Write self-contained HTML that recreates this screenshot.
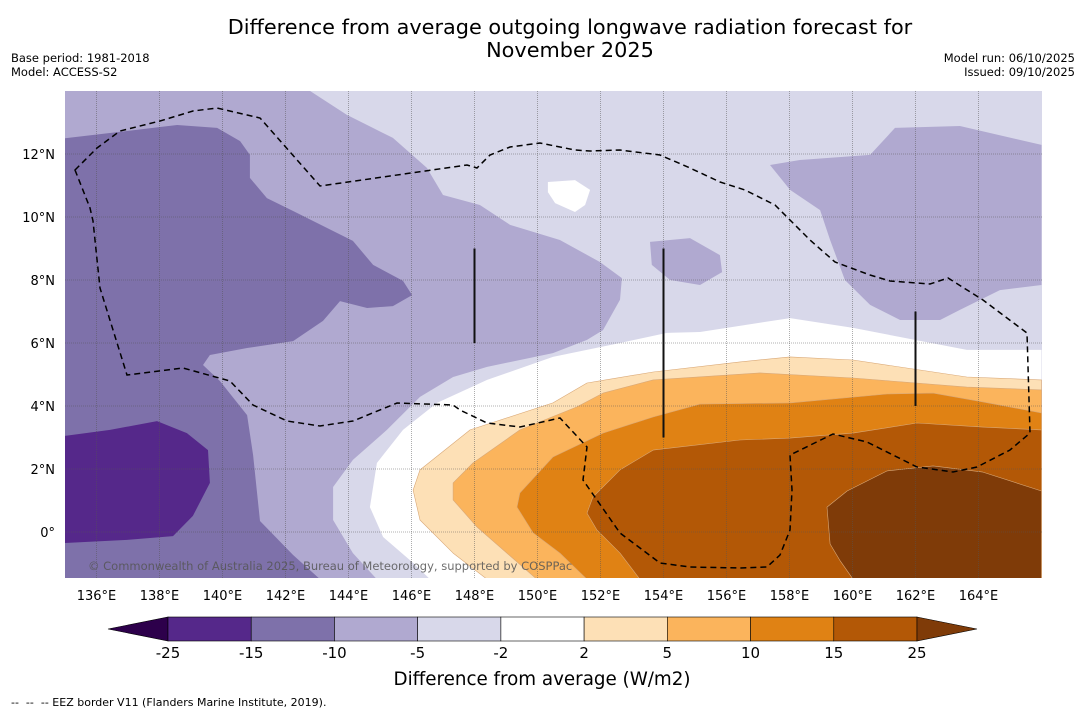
<!DOCTYPE html>
<html><head><meta charset="utf-8">
<style>
body{margin:0;background:#fff;width:1085px;height:713px;overflow:hidden;font-family:"DejaVu Sans","Liberation Sans",sans-serif;}
svg{display:block}
svg text{font-family:"DejaVu Sans","Liberation Sans",sans-serif;}
</style></head>
<body>
<svg id="chart" width="1085" height="713" viewBox="0 0 1085 713" xmlns="http://www.w3.org/2000/svg">
<rect width="1085" height="713" fill="#fff"/>
<text x="570" y="34" text-anchor="middle" font-size="20.8" fill="#000">Difference from average outgoing longwave radiation forecast for</text>
<text x="570" y="57" text-anchor="middle" font-size="20.8" fill="#000">November 2025</text>
<text x="11" y="62" font-size="11.5">Base period: 1981-2018</text>
<text x="11" y="76" font-size="11.5">Model: ACCESS-S2</text>
<text x="1075" y="62" font-size="11.5" text-anchor="end">Model run: 06/10/2025</text>
<text x="1075" y="76" font-size="11.5" text-anchor="end">Issued: 09/10/2025</text>
<defs><clipPath id="mapclip"><rect x="65" y="91" width="977" height="487"/></clipPath></defs>
<g id="map" clip-path="url(#mapclip)"></g>
<g id="axes"></g>
<g id="cbar"></g>
<text x="542" y="685" text-anchor="middle" font-size="18.3">Difference from average (W/m2)</text>
<text x="11" y="706" font-size="11" xml:space="preserve">--  --  -- EEZ border V11 (Flanders Marine Institute, 2019).</text>
</svg>
<script>
// Data: contour levels and filled regions (lon, lat)
const levels = [-25,-15,-10,-5,-2,2,5,10,15,25];
const colors = ["#55288a","#7e71aa","#b0a9d0","#d8d8ea","#ffffff","#fde0b6","#fbb45c","#e08214","#b35806","#7f3b08"];
const lonTicks = [136,138,140,142,144,146,148,150,152,154,156,158,160,162,164];
const latTicks = [0,2,4,6,8,10,12];
const regionLe10 = [[142.78,14],[143.95,13.24],[145.41,12.51],[146.49,11.56],[147,10.7],[148.17,10.38],[149.13,9.75],[150.71,9.27],[151.98,8.57],[152.68,8.06],[152.62,7.37],[152.08,6.41],[151.57,6.1],[150.49,5.68],[148.4,5.24],[147.32,4.92],[146.27,4.29],[145.22,3.24],[144.14,2.29],[143.51,1.43],[143.51,0.38],[144.14,-0.67],[144.9,-1.5],[135,-1.5],[135,14]];
const regionLe10East = [[157.38,11.65],[158.33,11.81],[160.56,11.97],[161.35,12.83],[163.41,12.89],[166,12.29],[166,7.84],[164.68,7.68],[163.41,7.05],[162.78,6.73],[161.51,6.73],[160.56,7.21],[159.76,8.0],[159.29,9.27],[158.97,10.22],[158.02,10.86]];
const regionLe10Blob = [[153.57,9.21],[154.84,9.33],[155.79,8.79],[155.86,8.25],[155.16,7.84],[154.21,8.0],[153.63,8.48]];
const regionLe15 = [[135,12.5],[138.56,12.92],[139.83,12.83],[140.56,12.41],[140.87,11.97],[140.87,11.24],[141.41,10.6],[142.24,10.19],[143.32,9.65],[144.14,9.24],[144.78,8.48],[145.73,7.97],[146.02,7.52],[145.41,7.17],[144.59,7.11],[143.73,7.33],[143.19,6.7],[142.24,6.06],[140.78,5.84],[139.6,5.62],[139.38,5.3],[139.92,4.79],[140.78,3.71],[140.97,2.44],[141.19,0.35],[142.24,-0.73],[143.1,-1.5],[135,-1.5]];
const regionLe25 = [[135,3.05],[136.43,3.24],[137.92,3.52],[138.87,3.14],[139.54,2.6],[139.6,1.56],[139.06,0.51],[138.43,-0.13],[136.97,-0.25],[135,-0.35]];
const regionWhiteIsland = [[150.33,11.11],[151.19,11.17],[151.67,10.86],[151.51,10.38],[151.19,10.16],[150.56,10.44],[150.33,10.79]];
const regionGeM2 = [[166,5.78],[163.63,5.78],[160.02,6.48],[158.02,6.79],[155.16,6.35],[154.11,6.32],[152.62,6.0],[150.49,5.56],[148.4,4.83],[146.81,4.1],[145.73,3.24],[144.9,2.19],[144.68,0.79],[145.1,-0.16],[146.05,-0.98],[146.59,-1.5],[166,-1.5]];
const regionGe2 = [[166,4.83],[163.63,4.92],[160.02,5.46],[158.02,5.56],[156.43,5.4],[153.67,5.08],[151.57,4.73],[150.49,4.1],[147.86,3.24],[146.27,1.97],[146.05,1.33],[146.27,0.38],[147.32,-0.67],[148.4,-1.5],[166,-1.5]];
const regionGe5 = [[166,4.51],[163.63,4.6],[160.02,4.89],[157.06,5.05],[153.67,4.83],[152.08,4.41],[151.25,3.97],[149.44,3.24],[147.95,2.19],[147.32,1.56],[147.32,1.02],[148.08,0.16],[149.03,-0.67],[149.98,-1.5],[166,-1.5]];
const regionGe10 = [[166,3.78],[164.14,4.13],[162.56,4.41],[161.1,4.38],[158.02,4.1],[155.16,4.06],[153.67,3.65],[152.08,3.14],[150.49,2.38],[149.44,1.24],[149.35,0.79],[149.86,-0.03],[150.71,-0.67],[151.57,-1.5],[166,-1.5]];
const regionGe15 = [[166,3.24],[164.14,3.33],[162.05,3.46],[160.02,3.14],[158.02,2.98],[156.43,2.92],[153.67,2.6],[152.62,1.97],[151.76,1.11],[151.57,0.6],[151.89,0.06],[152.62,-0.67],[153.25,-1.5],[166,-1.5]];
const regionGe25 = [[159.19,0.79],[159.83,1.3],[161.1,1.94],[162.56,2.1],[164.14,1.9],[166,1.3],[166,-1.5],[160.02,-1.5],[159.6,-0.9],[159.29,-0.38]];

// axis functions
const X0=65,X1=1042,Y0=91,Y1=578, LON0=135, LAT0=14, PPD=31.5;
const xs = lon => X0 + (lon-LON0)*PPD;
const ys = lat => Y0 + (LAT0-lat)*PPD;
const NS="http://www.w3.org/2000/svg";
function mk(tag, attrs, parent){const e=document.createElementNS(NS,tag);for(const k in attrs)e.setAttribute(k,attrs[k]);parent.appendChild(e);return e;}
const map=document.getElementById('map');
const bg=mk('rect',{x:X0,y:Y0,width:X1-X0,height:Y1-Y0,fill:colors[3]},map);


const layers=[[regionLe10,2,'region-minus10-to-minus5'],[regionLe10East,2,'region-minus10-east'],[regionLe10Blob,2,'region-minus10-blob'],[regionLe15,1,'region-minus15-to-minus10'],[regionLe25,0,'region-below-minus15'],[regionWhiteIsland,4,'region-near-zero-island'],[regionGeM2,4,'region-near-zero'],[regionGe2,5,'region-2-to-5'],[regionGe5,6,'region-5-to-10'],[regionGe10,7,'region-10-to-15'],[regionGe15,8,'region-15-to-25'],[regionGe25,9,'region-above-25']];
layers.forEach(([pts,ci,name])=>{
  const p=mk('polygon',{points:pts.map(q=>xs(q[0]).toFixed(1)+','+ys(q[1]).toFixed(1)).join(' '),fill:colors[ci],stroke:ci>=5?'#d9a877':'none','stroke-width':0.6,'stroke-linejoin':'round'},map);
  
  
});
// gridlines
lonTicks.forEach(l=>{const g=mk('line',{x1:xs(l),x2:xs(l),y1:Y0,y2:Y1,stroke:'#555','stroke-width':0.8,'stroke-dasharray':'1 1',opacity:0.6},map);

});
latTicks.forEach(l=>{const g=mk('line',{x1:X0,x2:X1,y1:ys(l),y2:ys(l),stroke:'#555','stroke-width':0.8,'stroke-dasharray':'1 1',opacity:0.6},map);

});
// EEZ border (geographic feature)
const eez=mk('path',{d:'M75,170 L97,148 L120,131 L160,121 L193,111 L217,108 L260,118 L320,186 L467,165 L477,168 L490,155 L510,147 L540,143 L575,150 L590,151 L620,150 L660,155 L690,168 L720,182 L745,190 L775,205 L790,220 L810,240 L835,262 L870,275 L890,281 L930,284 L948,278 L983,300 L1027,333 L1030,433 L1010,450 L977,467 L953,472 L917,467 L867,442 L833,434 L790,455 L792,490 L790,530 L780,555 L767,567 L740,568 L690,567 L660,563 L620,533 L583,480 L587,447 L560,418 L520,427 L487,423 L460,410 L453,405 L397,403 L353,421 L320,426 L287,421 L253,405 L230,381 L183,368 L127,375 L100,288 L93,221 L90,208 Z',fill:'none',stroke:'#000','stroke-width':1.5,'stroke-dasharray':'6 4'},map);


[[148,9,6],[154,9,3],[162,7,4]].forEach(([lo,a,b])=>{const l=mk('line',{x1:xs(lo),x2:xs(lo),y1:ys(a),y2:ys(b),stroke:'#111','stroke-width':2},map);

});
const cp=mk('text',{x:88,y:570,'font-size':11.5,fill:'#555',opacity:0.85},map);cp.textContent='© Commonwealth of Australia 2025, Bureau of Meteorology, supported by COSPPac';


// axes labels
const ax=document.getElementById('axes');
lonTicks.forEach(l=>{const t=mk('text',{x:xs(l),y:600,'text-anchor':'middle','font-size':13},ax);t.textContent=l+'°E';

});
latTicks.forEach(l=>{const t=mk('text',{x:55,y:ys(l)+5,'text-anchor':'end','font-size':13},ax);t.textContent=l===0?'0°':l+'°N';

});
// colorbar
const cb=document.getElementById('cbar');
const CB0=168,CB1=917,CBY=617,CBH=24,W=(CB1-CB0)/9;
const lt=mk('polygon',{points:`108,629 ${CB0},${CBY} ${CB0},${CBY+CBH}`,fill:'#2d004b',stroke:'#000','stroke-width':0.6},cb);


for(let i=0;i<9;i++){const r=mk('rect',{x:CB0+i*W,y:CBY,width:W,height:CBH,fill:colors[i],stroke:'#000','stroke-width':0.6},cb);

}
const rt=mk('polygon',{points:`${CB1},${CBY} 977,629 ${CB1},${CBY+CBH}`,fill:colors[9],stroke:'#000','stroke-width':0.6},cb);


levels.forEach((v,i)=>{const t=mk('text',{x:CB0+i*W,y:658,'text-anchor':'middle','font-size':15},cb);t.textContent=v;

});
</script>
</body></html>
